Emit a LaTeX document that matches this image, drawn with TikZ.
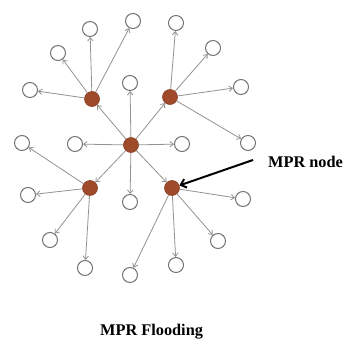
\documentclass[tikz,border=0pt]{standalone}
\usepackage{fontspec}
\setmainfont{Liberation Serif}
\usetikzlibrary{arrows.meta}
\definecolor{mprred}{RGB}{160,74,44}
\definecolor{linegray}{RGB}{150,146,142}
\definecolor{circgray}{RGB}{115,115,115}
\begin{document}
\begin{tikzpicture}[x=1pt,y=-1pt,
  wn/.style={circle,draw=circgray,line width=1pt,fill=white,minimum width=14pt,minimum height=15pt,inner sep=0pt},
  rn/.style={circle,draw=mprred!85!black,line width=0.6pt,fill=mprred,minimum size=15pt,inner sep=0pt},
  arr/.style={draw=linegray,line width=0.8pt,-{Straight Barb[length=3.5pt,width=5.5pt]}},
  lbl/.style={font=\bfseries\fontsize{16.3}{18}\selectfont,inner sep=0pt}]
\useasboundingbox (0,0) rectangle (343,340);
\fill[white] (0,0) rectangle (343,340);
% MPR (red) nodes
\node[rn] (C)  at (131,145) {};
\node[rn] (UL) at (92,99) {};
\node[rn] (UR) at (170,97) {};
\node[rn] (LL) at (90,188) {};
\node[rn] (LR) at (172,188) {};
% white nodes
\node[wn] (c1) at (130,83) {};
\node[wn] (c2) at (75,144) {};
\node[wn] (c3) at (182,144) {};
\node[wn] (c4) at (130,202) {};
\node[wn] (a1) at (30,90) {};
\node[wn] (a2) at (58,53) {};
\node[wn] (a3) at (90,29) {};
\node[wn] (a4) at (133,21) {};
\node[wn] (b1) at (176,23) {};
\node[wn] (b2) at (213,48) {};
\node[wn] (b3) at (241,87) {};
\node[wn] (b4) at (248,143) {};
\node[wn] (d1) at (22,143) {};
\node[wn] (d2) at (28,195) {};
\node[wn] (d3) at (50,240) {};
\node[wn] (d4) at (85,268) {};
\node[wn] (e1) at (130,275) {};
\node[wn] (e2) at (176,265) {};
\node[wn] (e3) at (218,241) {};
\node[wn] (e4) at (243,199) {};
% arrows
\foreach \t in {UL,UR,LL,LR,c1,c2,c3,c4} \draw[arr] (C) -- (\t);
\foreach \t in {a1,a2,a3,a4} \draw[arr] (UL) -- (\t);
\foreach \t in {b1,b2,b3,b4} \draw[arr] (UR) -- (\t);
\foreach \t in {d1,d2,d3,d4} \draw[arr] (LL) -- (\t);
\foreach \t in {e1,e2,e3,e4} \draw[arr] (LR) -- (\t);
% labels
\node[lbl,anchor=base west] (mprlbl) at (268,167) {MPR node};
\coordinate (tail) at (253,160);
\draw[black,line width=2pt,-{Straight Barb[length=5pt,width=9pt]}] (tail) -- (LR);
\node[lbl,anchor=base west] (title) at (100,335) {MPR Flooding};
\end{tikzpicture}
\end{document}
